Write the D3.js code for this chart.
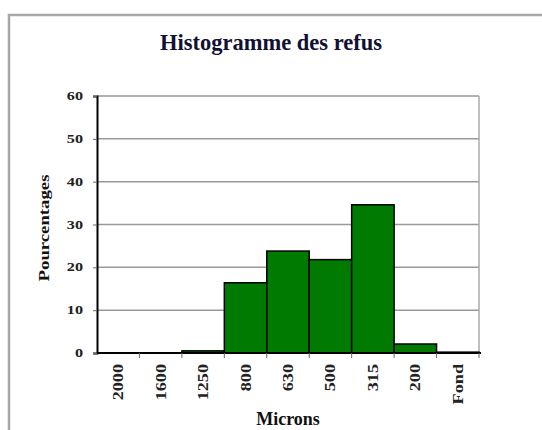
<!DOCTYPE html>
<html>
<head>
<meta charset="utf-8">
<script src="https://cdn.jsdelivr.net/npm/d3@7"></script>
<style>
  body { margin: 0; background: #fff; }
  svg text { font-family: "Liberation Serif", "Times New Roman", serif; }
</style>
</head>
<body>
<div id="chart"></div>
<script>
// --- Data ---
const categories = ["2000", "1600", "1250", "800", "630", "500", "315", "200", "Fond"];
const values = [0, 0, 0.5, 16.4, 23.8, 21.8, 34.6, 2.1, 0.2];
const yTicks = [0, 10, 20, 30, 40, 50, 60];

const width = 542, height = 430;
const margin = { top: 96, right: 63, bottom: 77, left: 97 };

const svg = d3.select("#chart").append("svg")
  .attr("width", width)
  .attr("height", height);

// outer frame
svg.append("rect")
  .attr("x", 9)
  .attr("y", 15)
  .attr("width", 540)
  .attr("height", 440)
  .attr("fill", "none")
  .attr("stroke", "#a8a8a8")
  .attr("stroke-width", 2.5);

const x = d3.scaleBand()
  .domain(categories)
  .range([margin.left, width - margin.right])
  .padding(0);

const y = d3.scaleLinear()
  .domain([0, 60])
  .range([height - margin.bottom, margin.top]);

// gridlines
svg.append("g")
  .selectAll("line")
  .data(yTicks.filter(d => d > 0))
  .join("line")
  .attr("x1", margin.left)
  .attr("x2", width - margin.right)
  .attr("y1", d => y(d))
  .attr("y2", d => y(d))
  .attr("stroke", "#999")
  .attr("stroke-width", 1.5);

// right border of plot area
svg.append("line")
  .attr("x1", width - margin.right)
  .attr("x2", width - margin.right)
  .attr("y1", y(60))
  .attr("y2", y(0))
  .attr("stroke", "#aaa")
  .attr("stroke-width", 1.5);

// bars
svg.append("g")
  .selectAll("rect")
  .data(values)
  .join("rect")
  .attr("x", (d, i) => x(categories[i]))
  .attr("y", d => y(d))
  .attr("width", x.bandwidth())
  .attr("height", d => y(0) - y(d))
  .attr("fill", d => d > 0 ? "#007a00" : "none")
  .attr("stroke", "#000")
  .attr("stroke-width", 1.5);

// y axis (labels drawn separately, the scan is stretched sideways)
const yAxis = svg.append("g")
  .attr("transform", `translate(${margin.left},0)`)
  .call(d3.axisLeft(y).tickValues(yTicks).tickSize(4).tickFormat(""));
yAxis.select(".domain").attr("stroke", "#000").attr("stroke-width", 2);
yAxis.selectAll(".tick line").attr("stroke", "#666");

svg.append("g")
  .selectAll("text")
  .data(yTicks)
  .join("text")
  .attr("transform", d => `translate(${margin.left - 14},${y(d) + 4}) scale(1.35,1)`)
  .attr("text-anchor", "end")
  .attr("font-size", 12)
  .attr("font-weight", "bold")
  .attr("fill", "#222")
  .text(d => d);

// x axis baseline + ticks at band boundaries
svg.append("line")
  .attr("x1", margin.left)
  .attr("x2", width - margin.right + 2)
  .attr("y1", y(0))
  .attr("y2", y(0))
  .attr("stroke", "#000")
  .attr("stroke-width", 2);

svg.append("g")
  .selectAll("line")
  .data(categories.slice(1).concat(["end"]))
  .join("line")
  .attr("x1", (d, i) => margin.left + (i + 1) * x.bandwidth())
  .attr("x2", (d, i) => margin.left + (i + 1) * x.bandwidth())
  .attr("y1", y(0))
  .attr("y2", y(0) + 5)
  .attr("stroke", "#666");

svg.append("g")
  .selectAll("text")
  .data(categories)
  .join("text")
  .attr("transform", d => `translate(${x(d) + x.bandwidth() / 2 + 5},${y(0) + 11}) rotate(-90) scale(1.3,1)`)
  .attr("text-anchor", "end")
  .attr("font-size", 14)
  .attr("font-weight", "bold")
  .attr("fill", "#222")
  .text(d => d);

// titles
svg.append("text")
  .attr("x", 271)
  .attr("y", 50)
  .attr("text-anchor", "middle")
  .attr("font-size", 22.5)
  .attr("font-weight", "bold")
  .attr("fill", "#111133")
  .text("Histogramme des refus");

svg.append("text")
  .attr("transform", "translate(49,228) rotate(-90) scale(1.25,1)")
  .attr("text-anchor", "middle")
  .attr("font-size", 15)
  .attr("font-weight", "bold")
  .attr("fill", "#111")
  .text("Pourcentages");

svg.append("text")
  .attr("x", 288)
  .attr("y", 425)
  .attr("text-anchor", "middle")
  .attr("font-size", 18)
  .attr("font-weight", "bold")
  .attr("fill", "#111")
  .text("Microns");
</script>
</body>
</html>
